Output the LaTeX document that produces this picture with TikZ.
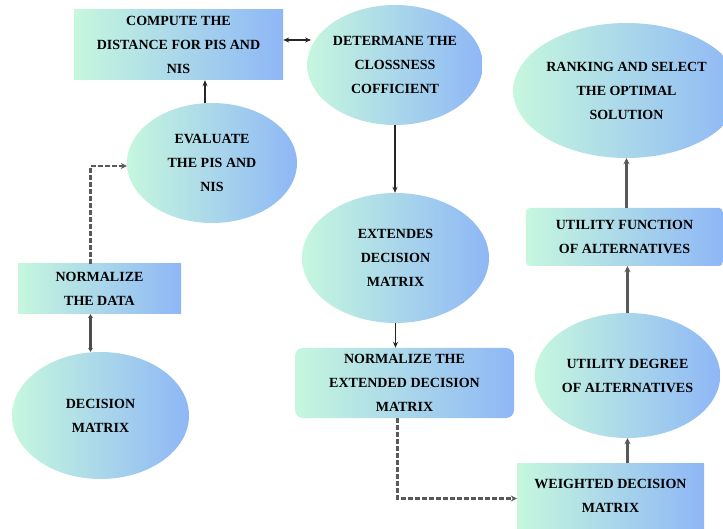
\documentclass[tikz,border=0pt]{standalone}
\usepackage{fontspec}
\setmainfont{Liberation Serif}
\usetikzlibrary{shapes.geometric,arrows.meta}
\definecolor{mintc}{RGB}{198,247,222}
\definecolor{bluec}{RGB}{142,183,246}
\tikzset{
  lbl/.style={font=\fontsize{14}{24}\selectfont\bfseries, align=center, inner sep=0pt, text=black},
  oval/.style={lbl, ellipse, left color=mintc, right color=bluec, draw=none},
  sqbox/.style={lbl, rectangle, left color=mintc, right color=bluec, draw=none},
  rbox/.style={sqbox, rounded corners=8pt},
  solidarrow/.style={line width=1.8pt, draw=black!85, -{Stealth[length=6pt,width=5pt]}},
  twoway/.style={line width=1.8pt, draw=black!85, {Stealth[length=6pt,width=5pt]}-{Stealth[length=6pt,width=5pt]}},
  greyarrow/.style={line width=2.4pt, draw=black!65, -{Stealth[length=6pt,width=6pt]}},
  dasharrow/.style={line width=2.6pt, draw=black!65, dash pattern=on 5pt off 2pt, -{Stealth[length=6pt,width=6pt]}}
}
\begin{document}
\begin{tikzpicture}[x=1pt,y=-1pt]
\useasboundingbox (0,0) rectangle (723,529);
\node[sqbox, minimum width=209pt, minimum height=70pt] (compute) at (178.5,45) {COMPUTE THE\\DISTANCE FOR PIS AND\\NIS};
\node[oval, minimum width=167pt, minimum height=120pt] (determ) at (395,65) {DETERMANE THE\\CLOSSNESS\\COFFICIENT};
\node[oval, minimum width=170pt, minimum height=120pt] (evaluate) at (212,163) {EVALUATE\\THE PIS AND\\NIS};
\node[sqbox, minimum width=163pt, minimum height=50pt] (normdata) at (99.5,289) {NORMALIZE\\THE DATA};
\node[oval, minimum width=177pt, minimum height=127pt] (decision) at (100.5,415.5) {DECISION\\MATRIX};
\node[oval, minimum width=187pt, minimum height=135pt] (ranking) at (626.5,90.5) {RANKING AND SELECT\\THE OPTIMAL\\SOLUTION};
\node[rbox, rounded corners=4pt, minimum width=197pt, minimum height=58pt] (utilfun) at (624.5,237) {UTILITY FUNCTION\\OF ALTERNATIVES};
\node[oval, minimum width=187pt, minimum height=130pt] (extendes) at (395.5,258) {EXTENDES\\DECISION\\MATRIX};
\node[oval, minimum width=169pt, minimum height=125pt] (utildeg) at (627.5,375.5) {UTILITY DEGREE\\OF ALTERNATIVES};
\node[rbox, minimum width=219pt, minimum height=70pt] (normext) at (404.5,383) {NORMALIZE THE\\EXTENDED DECISION\\MATRIX};
\node[sqbox, minimum width=187pt, minimum height=65pt] (weighted) at (610.5,495.5) {WEIGHTED DECISION\\MATRIX};

\draw[twoway] ([yshift=5pt]compute.east) -- ([yshift=5pt,xshift=4pt]compute.east -| determ.west);
\draw[solidarrow] ([xshift=-7pt]evaluate.north) -- ([xshift=-7pt]evaluate.north |- compute.south);
\draw[dasharrow] ([xshift=-9pt]normdata.north) |- ([yshift=-3pt]evaluate.west);
\draw[line width=3pt, draw=black!70, {Stealth[length=4pt,width=5pt]}-{Stealth[length=4pt,width=5pt]}] ([xshift=-9pt]normdata.south) -- ([xshift=-9pt]normdata.south |- decision.north);
\draw[solidarrow] (determ.south) -- (determ.south |- extendes.north);
\draw[solidarrow] (extendes.south) -- (extendes.south |- normext.north);
\draw[dasharrow] ([xshift=-7pt]normext.south) |- ([yshift=-3pt]weighted.west);
\draw[greyarrow] (utildeg.south |- weighted.north) -- (utildeg.south);
\draw[greyarrow] (utildeg.north) -- (utildeg.north |- utilfun.south);
\draw[greyarrow] (ranking.south |- utilfun.north) -- (ranking.south);
\end{tikzpicture}
\end{document}
